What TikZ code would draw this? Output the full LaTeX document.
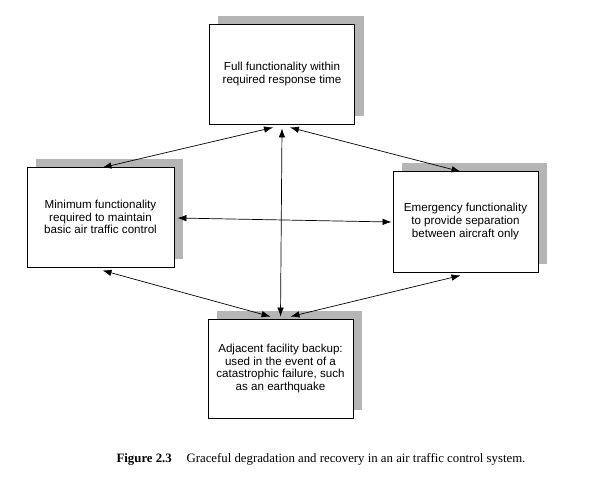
\documentclass[tikz,border=0pt]{standalone}
\usepackage{fontspec}
\setmainfont{Liberation Serif}
\newfontfamily\boxfont{Liberation Sans}
\usetikzlibrary{arrows.meta,backgrounds,calc}
\tikzset{
  statebox/.style={draw=black, line width=0.9pt, fill=white, minimum width=145pt, minimum height=100pt, align=center, font=\boxfont\fontsize{11.6}{12.6}\selectfont, inner sep=0pt},
  shadowc/.style={fill=black!29},
  link/.style={line width=0.7pt, {Latex[length=9pt,width=6.5pt]}-{Latex[length=9pt,width=6.5pt]}}
}
\begin{document}
\begin{tikzpicture}[x=1pt,y=-1pt]
\useasboundingbox (0,0) rectangle (599,480);
\node[statebox] (top) at (282,74) {Full functionality within\\required response time};
\node[statebox, minimum width=147pt] (lft) at (100.5,217) {Minimum functionality\\required to maintain\\basic air traffic control};
\node[statebox, minimum height=101pt] (rgt) at (465.5,221.5) {Emergency functionality\\to provide separation\\between aircraft only};
\node[statebox, minimum height=99pt] (bot) at (280.5,368.5) {Adjacent facility backup:\\used in the event of a\\catastrophic failure, such\\as an earthquake};
\begin{scope}[on background layer]
  \fill[white] (0,0) rectangle (599,480);
  \foreach \n in {top,lft,rgt,bot}{
    \fill[shadowc] ($(\n.south west)+(9,-8)$) rectangle ($(\n.north east)+(9,-8)$);
  }
\end{scope}
\coordinate (tL) at ($(top.south)+(-9,3)$);
\coordinate (tC) at ($(top.south)+(0,4)$);
\coordinate (tR) at ($(top.south)+(8,3)$);
\coordinate (bL) at ($(bot.north)+(-10,-2)$);
\coordinate (bC) at ($(bot.north)+(0,-2)$);
\coordinate (bR) at ($(bot.north)+(10,-2)$);
\coordinate (lT) at ($(lft.north)+(2,1)$);
\coordinate (lB) at ($(lft.south)+(2,3)$);
\coordinate (rT) at ($(rgt.north)+(-5,1)$);
\coordinate (rB) at ($(rgt.south)+(-5,3)$);
\coordinate (lE) at ($(lft.east)+(3,1)$);
\coordinate (rW) at ($(rgt.west)+(-1,0.5)$);
\draw[link] (lT) -- (tL);
\draw[link] (rT) -- (tR);
\draw[link] (bC) -- (tC);
\draw[link] (lB) -- (bL);
\draw[link] (rB) -- (bR);
\draw[link] (lE) -- (rW);
\node[font=\fontsize{12.8}{14}\selectfont] (cap) at (321,459) {\textbf{Figure 2.3}\hspace{0.9em} Graceful degradation and recovery in an air traffic control system.};
\end{tikzpicture}
\end{document}
